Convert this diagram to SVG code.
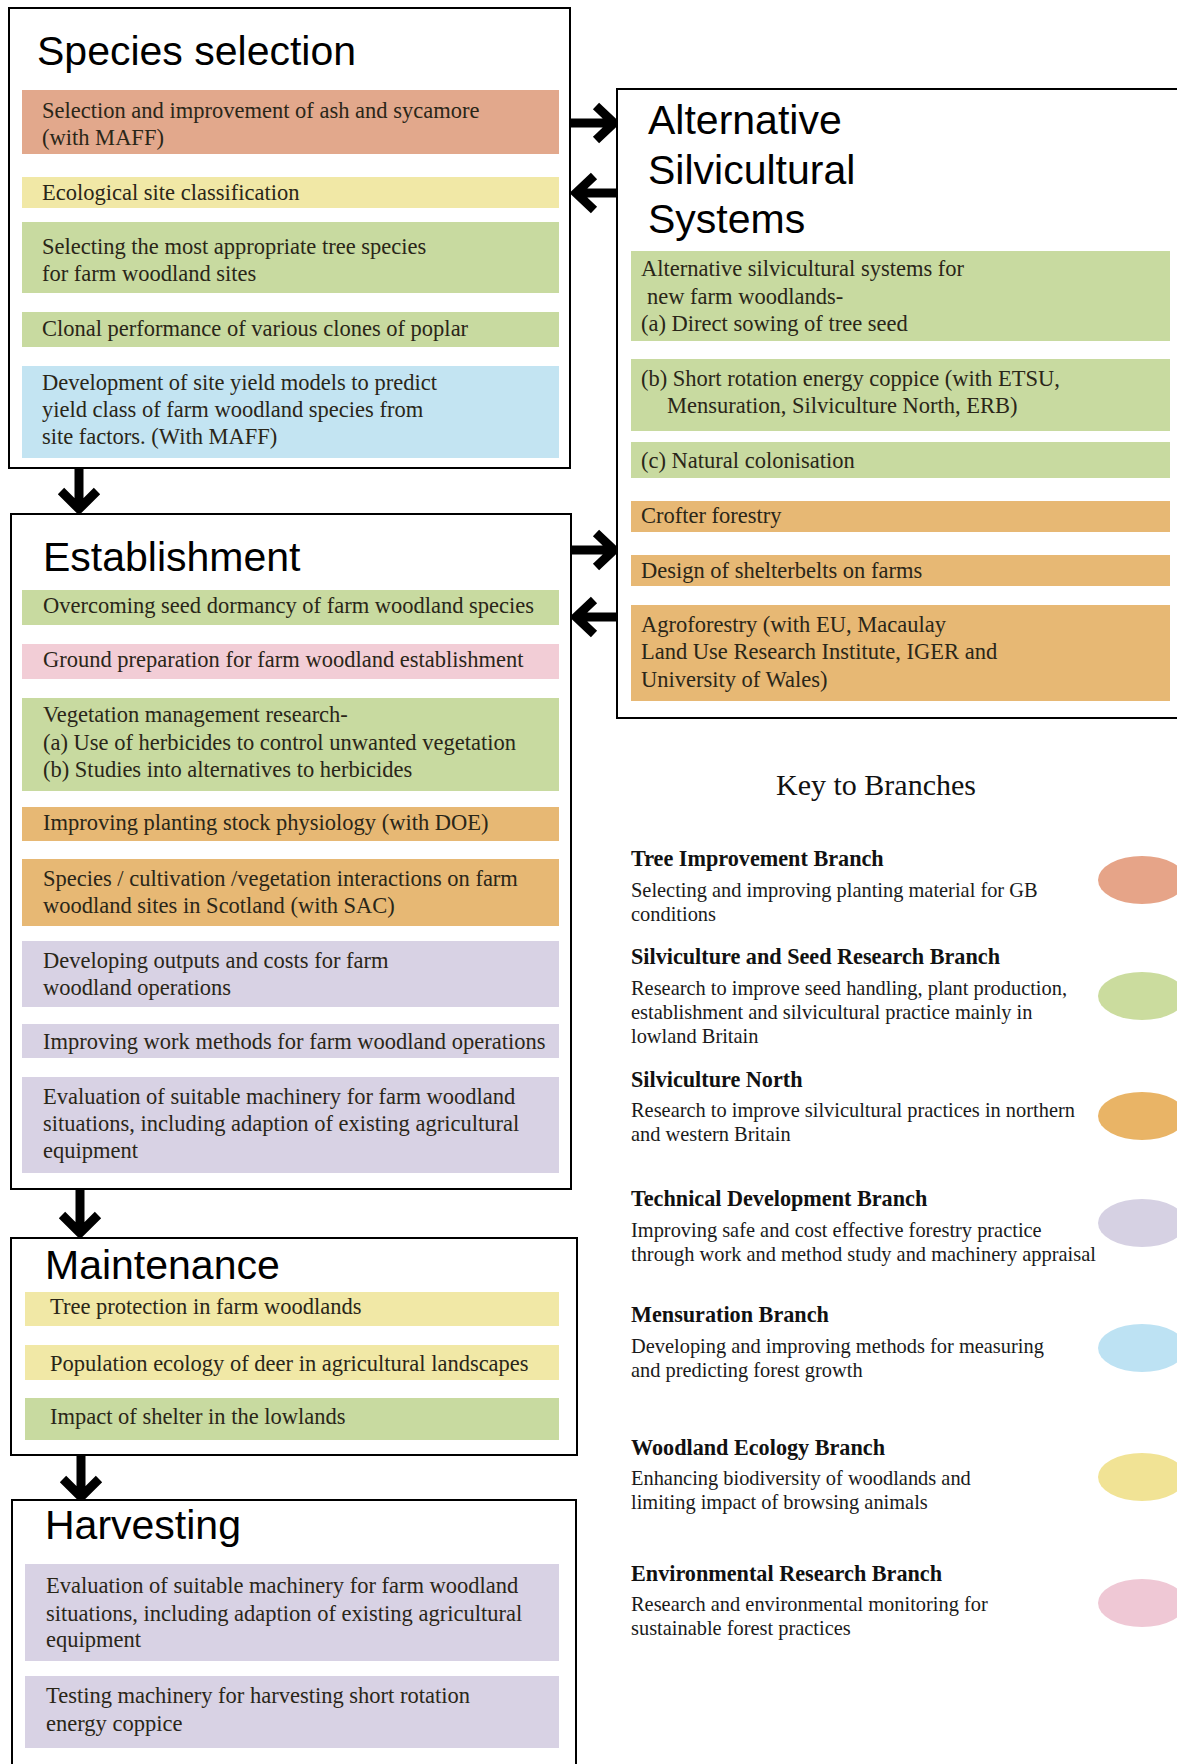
<svg xmlns="http://www.w3.org/2000/svg" width="1177" height="1764" viewBox="0 0 1177 1764">
<style>
.box{fill:#fff;stroke:#000;stroke-width:2}
.title{font-family:"Liberation Sans",Arial,sans-serif;font-size:41px;fill:#000}
.t{font-family:"Liberation Serif","Times New Roman",serif;font-size:22.5px;fill:#2a2618}
.kh{font-family:"Liberation Serif","Times New Roman",serif;font-size:22.2px;font-weight:bold;fill:#111}
.kd{font-family:"Liberation Serif","Times New Roman",serif;font-size:20.4px;fill:#1a1a1a}
.kt{font-family:"Liberation Serif","Times New Roman",serif;font-size:30px;fill:#111}
.sal{fill:#e2a88c}.yel{fill:#f1e8a6}.grn{fill:#c8daa0}.blu{fill:#c3e4f2}.org{fill:#e7b874}.pnk{fill:#f2cdd6}.pur{fill:#d8d2e4}
.arr{fill:none;stroke:#000;stroke-width:9;stroke-linejoin:miter}
</style>
<rect width="1177" height="1764" fill="#fff"/>

<g id="connectors">
  <path class="arr" d="M571 123H614M596 106L614 123L596 140"/>
  <path class="arr" d="M617 193H576M594 176L576 193L594 210"/>
  <path class="arr" d="M571 550H614M596 533L614 550L596 567"/>
  <path class="arr" d="M617 617H576M594 600L576 617L594 634"/>
  <path class="arr" d="M79 469V509M61 491L79 509L97 491"/>
  <path class="arr" d="M80 1190V1233M62 1215L80 1233L98 1215"/>
  <path class="arr" d="M81 1456V1497M63 1479L81 1497L99 1479"/>
</g>

<g id="species-selection">
  <rect class="box" x="9" y="8" width="561" height="460"/>
  <text class="title" x="37" y="65">Species selection</text>
  <rect class="sal" x="22" y="90" width="537" height="64"/>
  <text class="t" x="42" y="118">Selection and improvement of ash and sycamore</text>
  <text class="t" x="42" y="145">(with MAFF)</text>
  <rect class="yel" x="22" y="177" width="537" height="31"/>
  <text class="t" x="42" y="200">Ecological site classification</text>
  <rect class="grn" x="22" y="222" width="537" height="71"/>
  <text class="t" x="42" y="254">Selecting the most appropriate tree species</text>
  <text class="t" x="42" y="281">for farm woodland sites</text>
  <rect class="grn" x="22" y="312" width="537" height="35"/>
  <text class="t" x="42" y="336">Clonal performance of various clones of poplar</text>
  <rect class="blu" x="22" y="366" width="537" height="92"/>
  <text class="t" x="42" y="390">Development of site yield models to predict</text>
  <text class="t" x="42" y="417">yield class of farm woodland species from</text>
  <text class="t" x="42" y="444">site factors. (With MAFF)</text>
</g>

<g id="alternative-silvicultural-systems">
  <rect class="box" x="617" y="89" width="580" height="629"/>
  <text class="title" x="648" y="134">Alternative</text>
  <text class="title" x="648" y="184">Silvicultural</text>
  <text class="title" x="648" y="233">Systems</text>
  <rect class="grn" x="631" y="251" width="539" height="90"/>
  <text class="t" x="641" y="276">Alternative silvicultural  systems  for</text>
  <text class="t" x="647" y="304">new farm woodlands-</text>
  <text class="t" x="641" y="331">(a) Direct sowing of tree seed</text>
  <rect class="grn" x="631" y="359" width="539" height="72"/>
  <text class="t" x="641" y="386">(b) Short rotation energy coppice (with ETSU,</text>
  <text class="t" x="667" y="413">Mensuration, Silviculture  North, ERB)</text>
  <rect class="grn" x="631" y="442" width="539" height="36"/>
  <text class="t" x="641" y="468">(c) Natural colonisation</text>
  <rect class="org" x="631" y="501" width="539" height="31"/>
  <text class="t" x="641" y="523">Crofter forestry</text>
  <rect class="org" x="631" y="555" width="539" height="31"/>
  <text class="t" x="641" y="578">Design of shelterbelts on farms</text>
  <rect class="org" x="631" y="605" width="539" height="96"/>
  <text class="t" x="641" y="632">Agroforestry (with EU, Macaulay</text>
  <text class="t" x="641" y="659">Land Use Research Institute, IGER and</text>
  <text class="t" x="641" y="687">University of Wales)</text>
</g>

<g id="establishment">
  <rect class="box" x="11" y="514" width="560" height="675"/>
  <text class="title" x="43" y="571">Establishment</text>
  <rect class="grn" x="22" y="590" width="537" height="35"/>
  <text class="t" x="43" y="613">Overcoming seed dormancy of farm woodland species</text>
  <rect class="pnk" x="22" y="644" width="537" height="35"/>
  <text class="t" x="43" y="667">Ground preparation for farm woodland establishment</text>
  <rect class="grn" x="22" y="698" width="537" height="93"/>
  <text class="t" x="43" y="722">Vegetation management research-</text>
  <text class="t" x="43" y="750">(a) Use of herbicides to control unwanted vegetation</text>
  <text class="t" x="43" y="777">(b) Studies into alternatives to herbicides</text>
  <rect class="org" x="22" y="807" width="537" height="34"/>
  <text class="t" x="43" y="830">Improving planting stock physiology  (with DOE)</text>
  <rect class="org" x="22" y="859" width="537" height="67"/>
  <text class="t" x="43" y="886">Species / cultivation /vegetation interactions on farm</text>
  <text class="t" x="43" y="913">woodland sites in Scotland (with SAC)</text>
  <rect class="pur" x="22" y="941" width="537" height="66"/>
  <text class="t" x="43" y="968">Developing outputs and costs for farm</text>
  <text class="t" x="43" y="995">woodland operations</text>
  <rect class="pur" x="22" y="1024" width="537" height="34"/>
  <text class="t" x="43" y="1049">Improving work methods for farm woodland operations</text>
  <rect class="pur" x="22" y="1077" width="537" height="96"/>
  <text class="t" x="43" y="1104">Evaluation of suitable machinery for farm woodland</text>
  <text class="t" x="43" y="1131">situations, including adaption of existing agricultural</text>
  <text class="t" x="43" y="1158">equipment</text>
</g>

<g id="maintenance">
  <rect class="box" x="11" y="1238" width="566" height="217"/>
  <text class="title" x="45" y="1279">Maintenance</text>
  <rect class="yel" x="25" y="1292" width="534" height="34"/>
  <text class="t" x="50" y="1314">Tree protection in farm woodlands</text>
  <rect class="yel" x="25" y="1345" width="534" height="35"/>
  <text class="t" x="50" y="1371">Population ecology  of deer in agricultural landscapes</text>
  <rect class="grn" x="25" y="1398" width="534" height="42"/>
  <text class="t" x="50" y="1424">Impact of shelter in the lowlands</text>
</g>

<g id="harvesting">
  <rect class="box" x="12" y="1500" width="564" height="290"/>
  <text class="title" x="45" y="1539">Harvesting</text>
  <rect class="pur" x="25" y="1564" width="534" height="97"/>
  <text class="t" x="46" y="1593">Evaluation of suitable machinery for farm woodland</text>
  <text class="t" x="46" y="1621">situations, including adaption of existing agricultural</text>
  <text class="t" x="46" y="1647">equipment</text>
  <rect class="pur" x="25" y="1676" width="534" height="72"/>
  <text class="t" x="46" y="1703">Testing machinery for harvesting short rotation</text>
  <text class="t" x="46" y="1731">energy coppice</text>
</g>

<g id="key">
  <text class="kt" x="876" y="795" text-anchor="middle">Key to Branches</text>
  <g id="key-tree-improvement">
    <text class="kh" x="631" y="866">Tree Improvement Branch</text>
    <text class="kd" x="631" y="897">Selecting and improving planting material for GB</text>
    <text class="kd" x="631" y="921">conditions</text>
    <ellipse cx="1142" cy="880" rx="44" ry="24" fill="#e6a488"/>
  </g>
  <g id="key-silviculture-seed">
    <text class="kh" x="631" y="964">Silviculture and Seed Research Branch</text>
    <text class="kd" x="631" y="995">Research to improve seed handling, plant production,</text>
    <text class="kd" x="631" y="1019">establishment and silvicultural practice mainly in</text>
    <text class="kd" x="631" y="1043">lowland Britain</text>
    <ellipse cx="1142" cy="996" rx="44" ry="24" fill="#cbdc9e"/>
  </g>
  <g id="key-silviculture-north">
    <text class="kh" x="631" y="1087">Silviculture North</text>
    <text class="kd" x="631" y="1117">Research to improve silvicultural practices in northern</text>
    <text class="kd" x="631" y="1141">and western Britain</text>
    <ellipse cx="1142" cy="1116" rx="44" ry="24" fill="#e9b466"/>
  </g>
  <g id="key-technical-development">
    <text class="kh" x="631" y="1206">Technical Development Branch</text>
    <text class="kd" x="631" y="1237">Improving safe and cost effective forestry practice</text>
    <text class="kd" x="631" y="1261">through work and method study and machinery appraisal</text>
    <ellipse cx="1142" cy="1223" rx="44" ry="24" fill="#d6d1e3"/>
  </g>
  <g id="key-mensuration">
    <text class="kh" x="631" y="1322">Mensuration Branch</text>
    <text class="kd" x="631" y="1353">Developing and improving methods for measuring</text>
    <text class="kd" x="631" y="1377">and predicting forest growth</text>
    <ellipse cx="1142" cy="1348" rx="44" ry="24" fill="#bde2f3"/>
  </g>
  <g id="key-woodland-ecology">
    <text class="kh" x="631" y="1455">Woodland Ecology Branch</text>
    <text class="kd" x="631" y="1485">Enhancing biodiversity of woodlands and</text>
    <text class="kd" x="631" y="1509">limiting impact of browsing animals</text>
    <ellipse cx="1142" cy="1477" rx="44" ry="24" fill="#f1e395"/>
  </g>
  <g id="key-environmental-research">
    <text class="kh" x="631" y="1581">Environmental Research Branch</text>
    <text class="kd" x="631" y="1611">Research and environmental monitoring for</text>
    <text class="kd" x="631" y="1635">sustainable forest practices</text>
    <ellipse cx="1142" cy="1603" rx="44" ry="24" fill="#efc8d5"/>
  </g>
</g>
</svg>
